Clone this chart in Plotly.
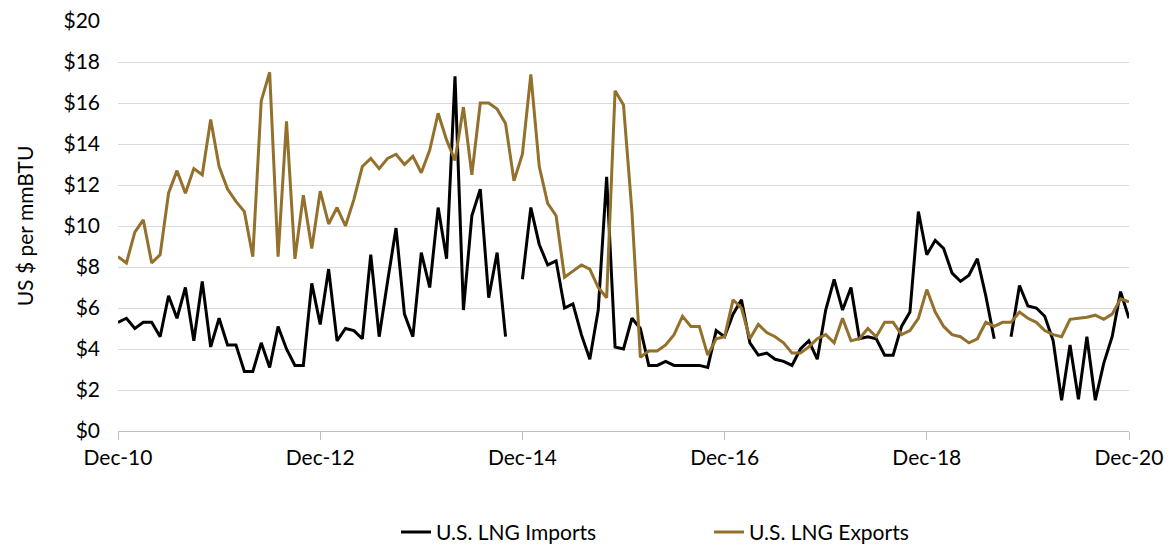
import pandas as pd
import plotly.graph_objects as go

# Monthly observations Dec-2010 .. Dec-2020
start_month = "2010-12-01"
n_months = 121
months = pd.date_range(start_month, periods=n_months, freq="MS").strftime("%b-%y").tolist()

imports_price = [
    5.3, 5.5, 5.0, 5.3, 5.3, 4.6, 6.6, 5.5, 7.0, 4.4, 7.3, 4.1,
    5.5, 4.2, 4.2, 2.9, 2.9, 4.3, 3.1, 5.1, 4.0, 3.2, 3.2, 7.2,
    5.2, 7.9, 4.4, 5.0, 4.9, 4.5, 8.6, 4.6, 7.3, 9.9, 5.7, 4.6,
    8.7, 7.0, 10.9, 8.4, 17.3, 5.9, 10.5, 11.8, 6.5, 8.7, 4.6, None,
    7.4, 10.9, 9.1, 8.1, 8.3, 6.0, 6.2, 4.7, 3.5, 5.9, 12.4, 4.1,
    4.0, 5.5, 5.0, 3.2, 3.2, 3.4, 3.2, 3.2, 3.2, 3.2, 3.1, 4.9,
    4.6, 5.7, 6.4, 4.3, 3.7, 3.8, 3.5, 3.4, 3.2, 4.0, 4.4, 3.5,
    5.9, 7.4, 5.9, 7.0, 4.5, 4.6, 4.5, 3.7, 3.7, 5.1, 5.8, 10.7,
    8.6, 9.3, 8.9, 7.7, 7.3, 7.6, 8.4, 6.6, 4.5, None, 4.6, 7.1,
    6.1, 6.0, 5.6, 4.4, 1.5, 4.2, 1.55, 4.6, 1.5, 3.3, 4.6, 6.8,
    5.5,
]

exports_price = [
    8.5, 8.2, 9.7, 10.3, 8.2, 8.6, 11.6, 12.7, 11.6, 12.8, 12.5, 15.2,
    12.9, 11.8, 11.2, 10.7, 8.5, 16.1, 17.5, 8.5, 15.1, 8.4, 11.5, 8.9,
    11.7, 10.1, 10.9, 10.0, 11.3, 12.9, 13.3, 12.8, 13.3, 13.5, 13.0, 13.4,
    12.6, 13.7, 15.5, 14.2, 13.2, 15.8, 12.5, 16.0, 16.0, 15.7, 15.0, 12.2,
    13.5, 17.4, 12.9, 11.1, 10.5, 7.5, 7.8, 8.1, 7.9, 7.0, 6.5, 16.6,
    15.9, 10.7, 3.6, 3.9, 3.9, 4.2, 4.7, 5.6, 5.1, 5.1, 3.7, 4.5,
    4.6, 6.4, 6.0, 4.5, 5.2, 4.8, 4.6, 4.3, 3.8, 3.8, 4.1, 4.5,
    4.7, 4.3, 5.5, 4.4, 4.5, 5.0, 4.6, 5.3, 5.3, 4.7, 4.9, 5.5,
    6.9, 5.8, 5.1, 4.7, 4.6, 4.3, 4.5, 5.3, 5.1, 5.3, 5.3, 5.8,
    5.5, 5.3, 4.9, 4.7, 4.6, 5.45, 5.5, 5.55, 5.65, 5.45, 5.7, 6.45,
    6.3,
]

x_tick_labels = ["Dec-10", "Dec-12", "Dec-14", "Dec-16", "Dec-18", "Dec-20"]
y_tick_values = [0, 2, 4, 6, 8, 10, 12, 14, 16, 18, 20]
y_tick_labels = ["$0", "$2", "$4", "$6", "$8", "$10", "$12", "$14", "$16", "$18", "$20"]

FONT = "Lato"
GOLD = "#93702B"
TICK_SIZE = 21

fig = go.Figure()
fig.add_trace(go.Scatter(
    x=months, y=imports_price, name="U.S. LNG Imports", mode="lines",
    line=dict(color="#000000", width=3), connectgaps=False,
))
fig.add_trace(go.Scatter(
    x=months, y=exports_price, name="U.S. LNG Exports", mode="lines",
    line=dict(color=GOLD, width=3), connectgaps=False,
))

# The page adds an 8px body margin, so the figure is sized to fit the window.
fig.update_layout(
    width=1164, height=541,
    margin=dict(l=110, r=43, t=13, b=118, autoexpand=False),
    paper_bgcolor="white", plot_bgcolor="white",
    font=dict(family=FONT, size=TICK_SIZE, color="#000000"),
    showlegend=True,
    legend=dict(
        orientation="h", x=0.275, xanchor="left", y=-0.197, yanchor="top",
        font=dict(family=FONT, size=TICK_SIZE, color="#000000"),
        entrywidth=268, entrywidthmode="pixels", traceorder="normal",
        bgcolor="rgba(0,0,0,0)",
    ),
    xaxis=dict(
        type="category", range=[0, n_months - 1], automargin=False,
        tickmode="array", tickvals=x_tick_labels, ticktext=x_tick_labels,
        showgrid=False, showline=True, linecolor="#BFBFBF", linewidth=1.3,
        ticks="outside", ticklen=8, tickcolor="#BFBFBF", tickwidth=1.3,
        tickfont=dict(family=FONT, size=TICK_SIZE, color="#000000"),
        zeroline=False, ticklabeloverflow="allow",
    ),
    yaxis=dict(
        range=[0, 20], automargin=False,
        tickmode="array", tickvals=y_tick_values, ticktext=y_tick_labels,
        showgrid=True, gridcolor="#D9D9D9", gridwidth=1.3,
        showline=False, zeroline=False, ticks="",
        ticklabelstandoff=17, ticklabeloverflow="allow",
        tickfont=dict(family=FONT, size=TICK_SIZE, color="#000000"),
        title=dict(text="US $ per mmBTU", standoff=24,
                   font=dict(family=FONT, size=21, color="#000000")),
    ),
)

fig.write_html("out.html")
